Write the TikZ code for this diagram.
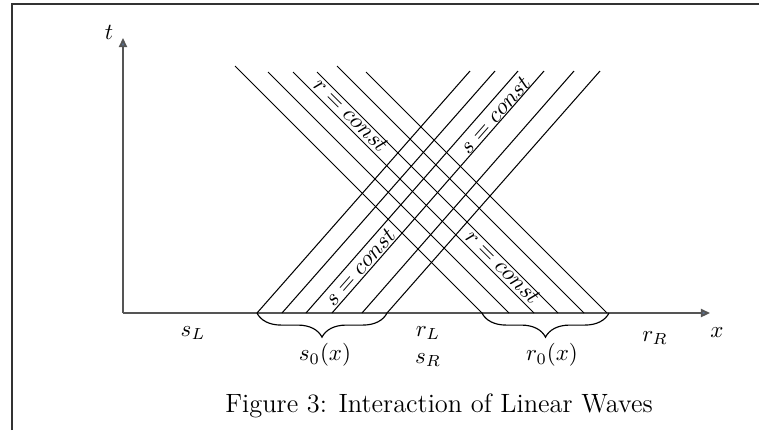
\documentclass[tikz,border=0pt]{standalone}
\usetikzlibrary{arrows.meta,decorations.pathreplacing}
\definecolor{axisgray}{HTML}{555555}
\definecolor{tipfill}{HTML}{5A7090}
\definecolor{framegray}{HTML}{333333}
\begin{document}
\begin{tikzpicture}[x=0.4348pt,y=-0.4348pt,
  axisline/.style={draw=axisgray,line width=0.8pt,-{Triangle[length=4pt,width=3.6pt,fill=tipfill]}},
  charline/.style={draw=black,line width=0.45pt},
  framel/.style={draw=framegray,line width=0.6pt},
  bracestyle/.style={draw=black,line width=0.5pt,decorate,decoration={brace,amplitude=10.5pt}},
  lbl/.style={inner sep=0pt,font=\normalsize}]
\useasboundingbox (0,0) rectangle (759,430);
% frame
\coordinate (fl) at (12,430);
\coordinate (fc) at (12,4);
\coordinate (fr) at (759,4);
\draw[framel] (fl) -- (fc) -- (fr);
% axes
\coordinate (o) at (123,313);
\coordinate (tend) at (123,38);
\coordinate (xend) at (710,313);
\draw[axisline] (o) -- (tend);
\draw[axisline] (o) -- (xend);
\node[lbl] (tl) at (109,32) {$t$};
\node[lbl] (xl) at (717,333) {$x$};
% r = const lines (going down-right)
\foreach \i/\xa/\ya in {1/235/66,2/268/72,3/293/72,4/317/72,5/337/66,6/366/72}{
  \pgfmathsetmacro{\xb}{\xa+313-\ya}
  \coordinate (ra\i) at (\xa,\ya);
  \coordinate (rb\i) at (\xb,313);
  \draw[charline] (ra\i) -- (rb\i);
}
% s = const lines (going up-right)
\foreach \i/\xa/\xb in {1/257/470,2/282/495,3/306/518,4/332/544,5/362/574,6/387/600}{
  \coordinate (sa\i) at (\xa,313);
  \coordinate (sb\i) at (\xb,71);
  \draw[charline] (sa\i) -- (sb\i);
}
% labels on characteristic lines
\node[lbl,rotate=-45] (rc1) at (351,115) {$r = const$};
\node[lbl,rotate=-45] (rc2) at (503,267) {$r = const$};
\node[lbl,rotate=48.65] (sc1) at (495,115) {$s = const$};
\node[lbl,rotate=48.65] (sc2) at (360,267) {$s = const$};
% braces
\coordinate (b1l) at (257,313);
\coordinate (b1r) at (387,313);
\coordinate (b2l) at (482,313);
\coordinate (b2r) at (609,313);
\draw[bracestyle] (b1r) -- (b1l);
\draw[bracestyle] (b2r) -- (b2l);
\node[lbl] (s0) at (325,355) {$s_0(x)$};
\node[lbl] (r0) at (552,355) {$r_0(x)$};
% state labels
\node[lbl] (sL) at (193,333) {$s_L$};
\node[lbl] (rL) at (428,333) {$r_L$};
\node[lbl] (sR) at (428,360) {$s_R$};
\node[lbl] (rR) at (655,338) {$r_R$};
% caption
\node[lbl,anchor=base,font=\fontsize{11.5}{14}\selectfont] (cap) at (439,412) {Figure 3: Interaction of Linear Waves};
\end{tikzpicture}
\end{document}
